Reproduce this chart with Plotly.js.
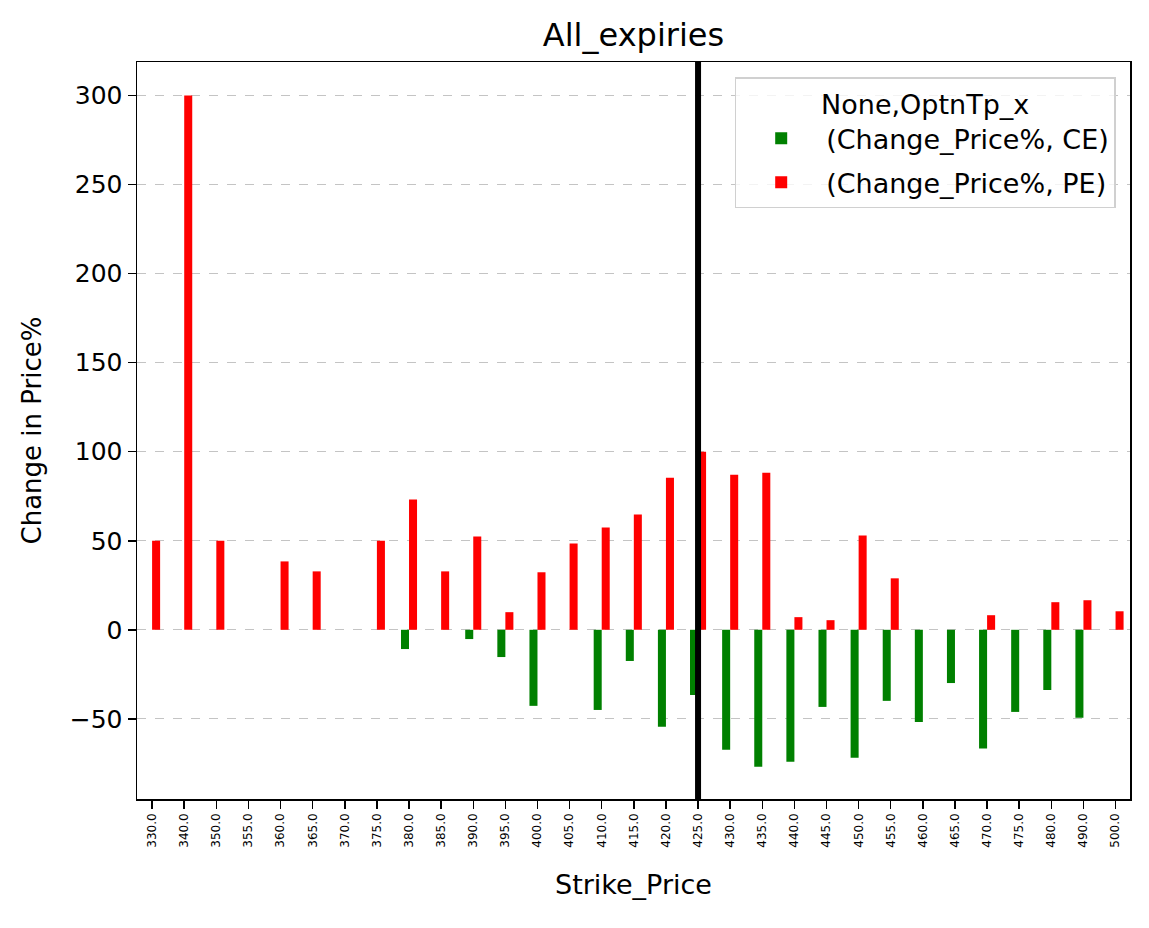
<!DOCTYPE html>
<html>
<head>
<meta charset="utf-8">
<script src="https://cdn.plot.ly/plotly-3.0.1.min.js"></script>
<style>
  html, body { margin: 0; padding: 0; background: #fff; }
  #chart { width: 1149px; height: 928px; }
</style>
</head>
<body>
<div id="chart"></div>
<script>
// strike prices (category labels on the x axis)
const strikes = ['330.0', '340.0', '350.0', '355.0', '360.0', '365.0', '370.0', '375.0',
  '380.0', '385.0', '390.0', '395.0', '400.0', '405.0', '410.0', '415.0', '420.0',
  '425.0', '430.0', '435.0', '440.0', '445.0', '450.0', '455.0', '460.0', '465.0',
  '470.0', '475.0', '480.0', '490.0', '500.0'];

// change in price %, calls
const ceChange = [null, null, null, null, null, null, null, null,
  -10.8, null, -5.2, -15.3, -42.7, null, -45, -17.5, -54.5,
  -36.6, -67.4, -76.9, -74.1, -43.3, -71.8, -39.9, -51.7, -29.9,
  -66.6, -46.1, -33.8, -49.4, null];

// change in price %, puts
const peChange = [50, 300, 50, null, 38.4, 32.8, null, 50,
  73.1, 32.8, 52.4, 9.9, 32.3, 48.5, 57.5, 64.7, 85.4,
  100, 87.1, 88.2, 7.1, 5.4, 53, 28.9, null, null,
  8.2, null, 15.5, 16.6, 10.4];

const atmStrike = '425.0';

const font = 'DejaVu Sans, sans-serif';

let traces = [
  {
    type: 'bar',
    name: '(Change_Price%, CE)',
    legendgroup: 'ce',
    x: strikes,
    y: ceChange,
    marker: { color: 'green' }
  },
  {
    type: 'bar',
    name: '(Change_Price%, PE)',
    legendgroup: 'pe',
    x: strikes,
    y: peChange,
    marker: { color: 'red' }
  }
];

let layout = {
  width: 1149,
  height: 928,
  margin: { l: 137, r: 19, t: 62, b: 129 },
  paper_bgcolor: '#fff',
  plot_bgcolor: '#fff',
  font: { family: font, color: '#000' },
  barmode: 'group',
  bargap: 0.5,
  bargroupgap: 0,
  title: {
    text: 'All_expiries',
    font: { size: 32, color: '#000' },
    x: 0.5,
    xref: 'paper',
    y: 1 - 35 / 928,
    yanchor: 'middle'
  },
  xaxis: {
    type: 'category',
    range: [-0.47, 30.45],
    title: { text: 'Strike_Price', font: { size: 27 }, standoff: 28 },
    tickangle: -90,
    tickfont: { size: 12 },
    ticks: 'outside',
    ticklen: 8,
    tickwidth: 1.5,
    tickcolor: '#000',
    showline: true,
    linecolor: '#000',
    linewidth: 1.5,
    mirror: true,
    showgrid: false,
    zeroline: false
  },
  yaxis: {
    range: [-95, 318.8],
    dtick: 50,
    title: { text: 'Change in Price%', font: { size: 26 }, standoff: 20 },
    tickfont: { size: 25 },
    ticks: 'outside',
    ticklen: 8,
    tickwidth: 1.5,
    tickcolor: '#000',
    showline: true,
    linecolor: '#000',
    linewidth: 1.5,
    mirror: true,
    showgrid: true,
    gridcolor: 'rgba(176,176,176,0.75)',
    griddash: 'dash',
    gridwidth: 1.2,
    zeroline: false
  },
  legend: {
    x: 0.9856,
    xanchor: 'right',
    y: 0.979,
    yanchor: 'top',
    bgcolor: 'rgba(255,255,255,0.8)',
    bordercolor: '#d0d0d0',
    borderwidth: 1.5,
    font: { size: 27 },
    title: { text: 'None,OptnTp_x', side: 'top center', font: { size: 27 } },
    itemwidth: 80,
    tracegroupgap: 6
  },
  shapes: [
    {
      type: 'line',
      xref: 'x',
      yref: 'paper',
      x0: strikes.indexOf(atmStrike),
      x1: strikes.indexOf(atmStrike),
      y0: 0,
      y1: 1,
      line: { color: '#000', width: 6 },
      layer: 'above'
    }
  ],
  showlegend: true
};

Plotly.newPlot('chart', traces, layout, { displayModeBar: false, staticPlot: true });
</script>
</body>
</html>
